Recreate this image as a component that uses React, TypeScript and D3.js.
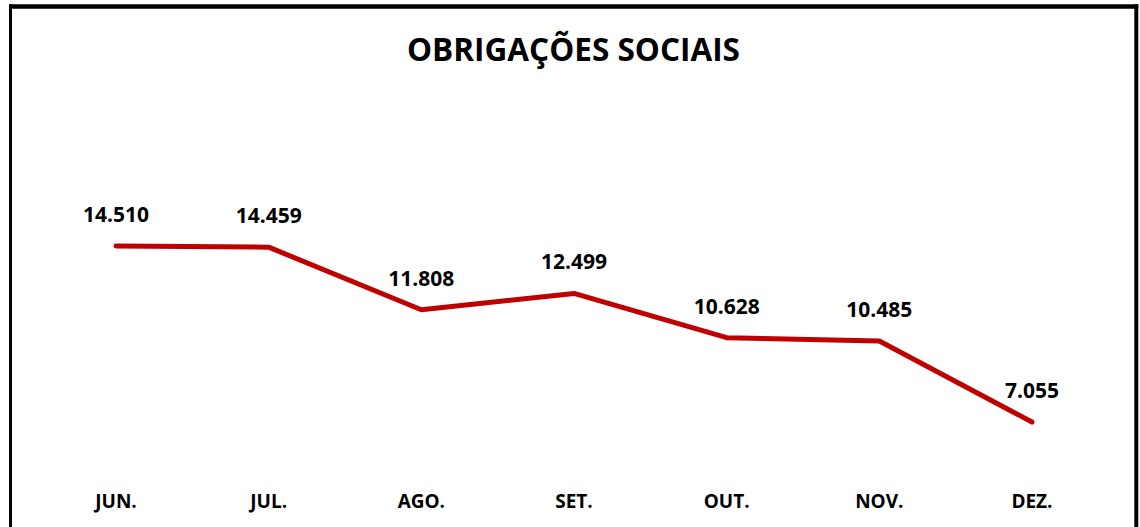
import * as d3 from "d3"

const categories = ["JUN.", "JUL.", "AGO.", "SET.", "OUT.", "NOV.", "DEZ."]
const values = [14510, 14459, 11808, 12499, 10628, 10485, 7055]
const valueLabels = ["14.510", "14.459", "11.808", "12.499", "10.628", "10.485", "7.055"]
const title = "OBRIGAÇÕES SOCIAIS"

const W = 1140
const H = 527
const font = "'Open Sans', 'Liberation Sans', sans-serif"

export default function App() {
  const x = d3.scaleBand<string>().domain(categories).range([39.7, 1108.3])
  const y = d3.scaleLinear().domain([0, 16000]).range([588.6, 210.8])
  const cx = (c: string) => (x(c) || 0) + x.bandwidth() / 2

  const line = d3
    .line<number>()
    .x((_, i) => cx(categories[i]))
    .y((d) => y(d))

  return (
    <svg
      width={W}
      height={H}
      style={{ position: "absolute", left: 0, top: 0, background: "#fff" }}
    >
      <rect x={0} y={0} width={W} height={H} fill="#fff" />
      {/* frame */}
      <line x1={9} x2={1138.3} y1={6.5} y2={6.5} stroke="#000" strokeWidth={4.5} />
      <line x1={10.5} x2={10.5} y1={4.3} y2={H} stroke="#000" strokeWidth={3} />
      <line x1={1136.3} x2={1136.3} y1={4.3} y2={H} stroke="#000" strokeWidth={4} />

      <text
        x={573.5}
        y={61}
        textAnchor="middle"
        fontFamily={font}
        fontWeight="bold"
        fontSize={33}
        textLength={333}
        lengthAdjust="spacingAndGlyphs"
      >
        {title}
      </text>

      <path
        d={line(values) || ""}
        fill="none"
        stroke="#C00000"
        strokeWidth={5}
        strokeLinecap="round"
        strokeLinejoin="round"
      />

      {values.map((v, i) => (
        <text
          key={categories[i]}
          x={cx(categories[i])}
          y={y(v) - 24}
          textAnchor="middle"
          fontFamily={font}
          fontWeight="bold"
          fontSize={21}
          fill="#000"
        >
          {valueLabels[i]}
        </text>
      ))}

      {categories.map((c) => (
        <text
          key={c}
          x={cx(c)}
          y={508}
          textAnchor="middle"
          fontFamily={font}
          fontWeight="bold"
          fontSize={19}
          fill="#000"
        >
          {c}
        </text>
      ))}
    </svg>
  )
}
